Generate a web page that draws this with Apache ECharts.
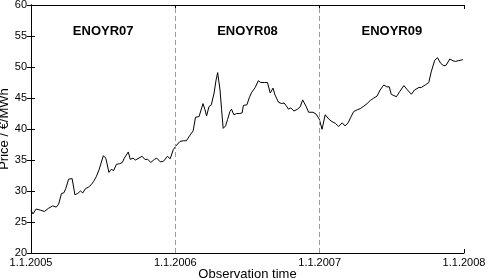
<!DOCTYPE html>
<html>
<head>
<meta charset="utf-8">
<script src="https://cdn.jsdelivr.net/npm/echarts@6/dist/echarts.min.js"></script>
<style>html,body{margin:0;padding:0;background:#fff;}#c{width:488px;height:278px;}</style>
</head>
<body>
<div id="c"></div>
<script>
// Observation day (days since 1.1.2005) and price (EUR/MWh)
var obsDay = [0,5,13,24,34,44,55,60,64,70,77,83,88,95,99,104,111,118,125,131,138,145,152,158,165,172,175,183,189,192,197,203,209,216,224,231,236,246,251,258,264,269,281,288,295,303,312,318,327,335,345,352,360,368,377,385,393,402,410,416,425,430,435,440,444,450,456,463,468,472,478,482,486,492,497,503,507,513,520,528,534,537,546,552,558,567,575,581,590,598,605,612,617,626,634,640,645,651,657,665,674,681,687,696,702,713,721,729,736,744,753,761,770,778,787,794,802,808,816,825,833,842,850,858,867,875,883,892,900,906,911,924,932,943,952,962,970,981,987,997,1006,1012,1021,1028,1036,1044,1050,1059,1067,1073,1080,1087,1092];
var price = [26.9,26.3,27.1,26.9,26.7,27.2,27.6,27.7,27.4,27.9,29.6,29.7,30.4,31.9,32.05,32.0,29.4,29.6,30.0,29.7,30.4,30.6,31.0,31.5,32.3,33.4,33.5,35.7,35.3,34.5,33.0,33.5,33.3,34.3,34.4,34.6,35.3,36.3,35.1,35.3,35.0,35.1,35.6,35.1,35.1,34.6,35.1,35.3,34.7,34.8,35.6,35.2,36.7,37.4,38.0,38.1,38.1,39.0,39.7,41.9,42.0,41.9,44.1,43.1,42.1,43.6,43.9,45.8,47.9,49.1,46.3,43.1,40.1,40.5,41.5,42.8,43.2,42.3,42.5,42.5,42.6,43.8,43.9,45.05,45.9,46.7,47.8,47.5,47.5,47.5,45.8,46.6,45.5,44.3,44.1,44.2,43.8,43.2,43.4,42.9,43.2,43.6,44.7,43.6,42.7,42.7,42.4,41.6,39.95,42.3,41.6,41.2,40.9,40.4,41.0,40.5,41.0,41.8,42.8,43.1,43.3,43.7,44.1,44.6,45.0,45.3,46.3,47.1,46.8,46.8,45.6,45.2,46.0,47.0,46.3,45.6,46.3,46.7,46.7,47.1,47.5,49.2,51.1,51.5,50.6,50.2,50.3,51.3,51.0,50.9,51.0,51.1,51.2];
var xTickDays = [0, 365, 730, 1095];
var xTickLabels = ['1.1.2005', '1.1.2006', '1.1.2007', '1.1.2008'];
var yearBounds = [365, 730];
var contractNames = ['ENOYR07', 'ENOYR08', 'ENOYR09'];
var contractMidDays = [182.5, 547.5, 912.5];

var FONT = '"Liberation Sans", Arial, Helvetica, sans-serif';
var chart = echarts.init(document.getElementById('c'), null, {renderer: 'canvas'});
var seriesData = obsDay.map(function (d, i) { return [d, price[i]]; });

function xLabel(v) {
  var idx = xTickDays.indexOf(Math.round(v));
  return idx >= 0 ? xTickLabels[idx] : '';
}

var axisLineStyle = {show: true, lineStyle: {color: '#000', width: 1}};
var tickStyle = {show: true, inside: true, length: 4, lineStyle: {color: '#000', width: 1}};

chart.setOption({
  animation: false,
  backgroundColor: '#fff',
  grid: {left: 31, top: 5, width: 433, height: 248, containLabel: false, outerBoundsMode: 'none'},
  xAxis: [{
    type: 'value', min: 0, max: 1095, interval: 365,
    position: 'bottom',
    name: 'Observation time', nameLocation: 'middle', nameGap: 15, nameMoveOverlap: false,
    nameTextStyle: {fontFamily: FONT, fontSize: 13, color: '#000', verticalAlign: 'top'},
    axisLine: axisLineStyle, axisTick: tickStyle,
    axisLabel: {formatter: xLabel, fontFamily: FONT, fontSize: 11, color: '#000', margin: 4},
    splitLine: {show: false}
  }, {
    type: 'value', min: 0, max: 1095, interval: 365,
    position: 'top',
    axisLine: axisLineStyle, axisTick: tickStyle,
    axisLabel: {show: false}, splitLine: {show: false}
  }],
  yAxis: [{
    type: 'value', min: 20, max: 60, interval: 5,
    position: 'left',
    name: 'Price / €/MWh', nameLocation: 'middle', nameGap: 20, nameMoveOverlap: false,
    nameTextStyle: {fontFamily: FONT, fontSize: 13, color: '#000'},
    axisLine: axisLineStyle, axisTick: tickStyle,
    axisLabel: {fontFamily: FONT, fontSize: 11, color: '#000', margin: 4},
    splitLine: {show: false}
  }, {
    type: 'value', min: 20, max: 60, interval: 5,
    position: 'right',
    axisLine: axisLineStyle, axisTick: tickStyle,
    axisLabel: {show: false}, splitLine: {show: false}
  }],
  series: [{
    type: 'line',
    data: seriesData,
    showSymbol: false,
    symbol: 'none',
    lineStyle: {color: '#000', width: 1},
    markLine: {
      silent: true,
      symbol: ['none', 'none'],
      label: {show: false},
      lineStyle: {color: '#9a9a9a', width: 1, type: [5, 3]},
      data: yearBounds.map(function (d) { return {xAxis: d}; })
    },
    z: 3
  }]
});

var texts = contractNames.map(function (n, i) {
  var p = chart.convertToPixel({xAxisIndex: 0, yAxisIndex: 0}, [contractMidDays[i], 55.7]);
  return {
    type: 'text', x: p[0], y: p[1],
    style: {text: n, font: 'bold 13px ' + FONT, fill: '#000', align: 'center', verticalAlign: 'middle'}
  };
});
chart.setOption({graphic: texts});
</script>
</body>
</html>
